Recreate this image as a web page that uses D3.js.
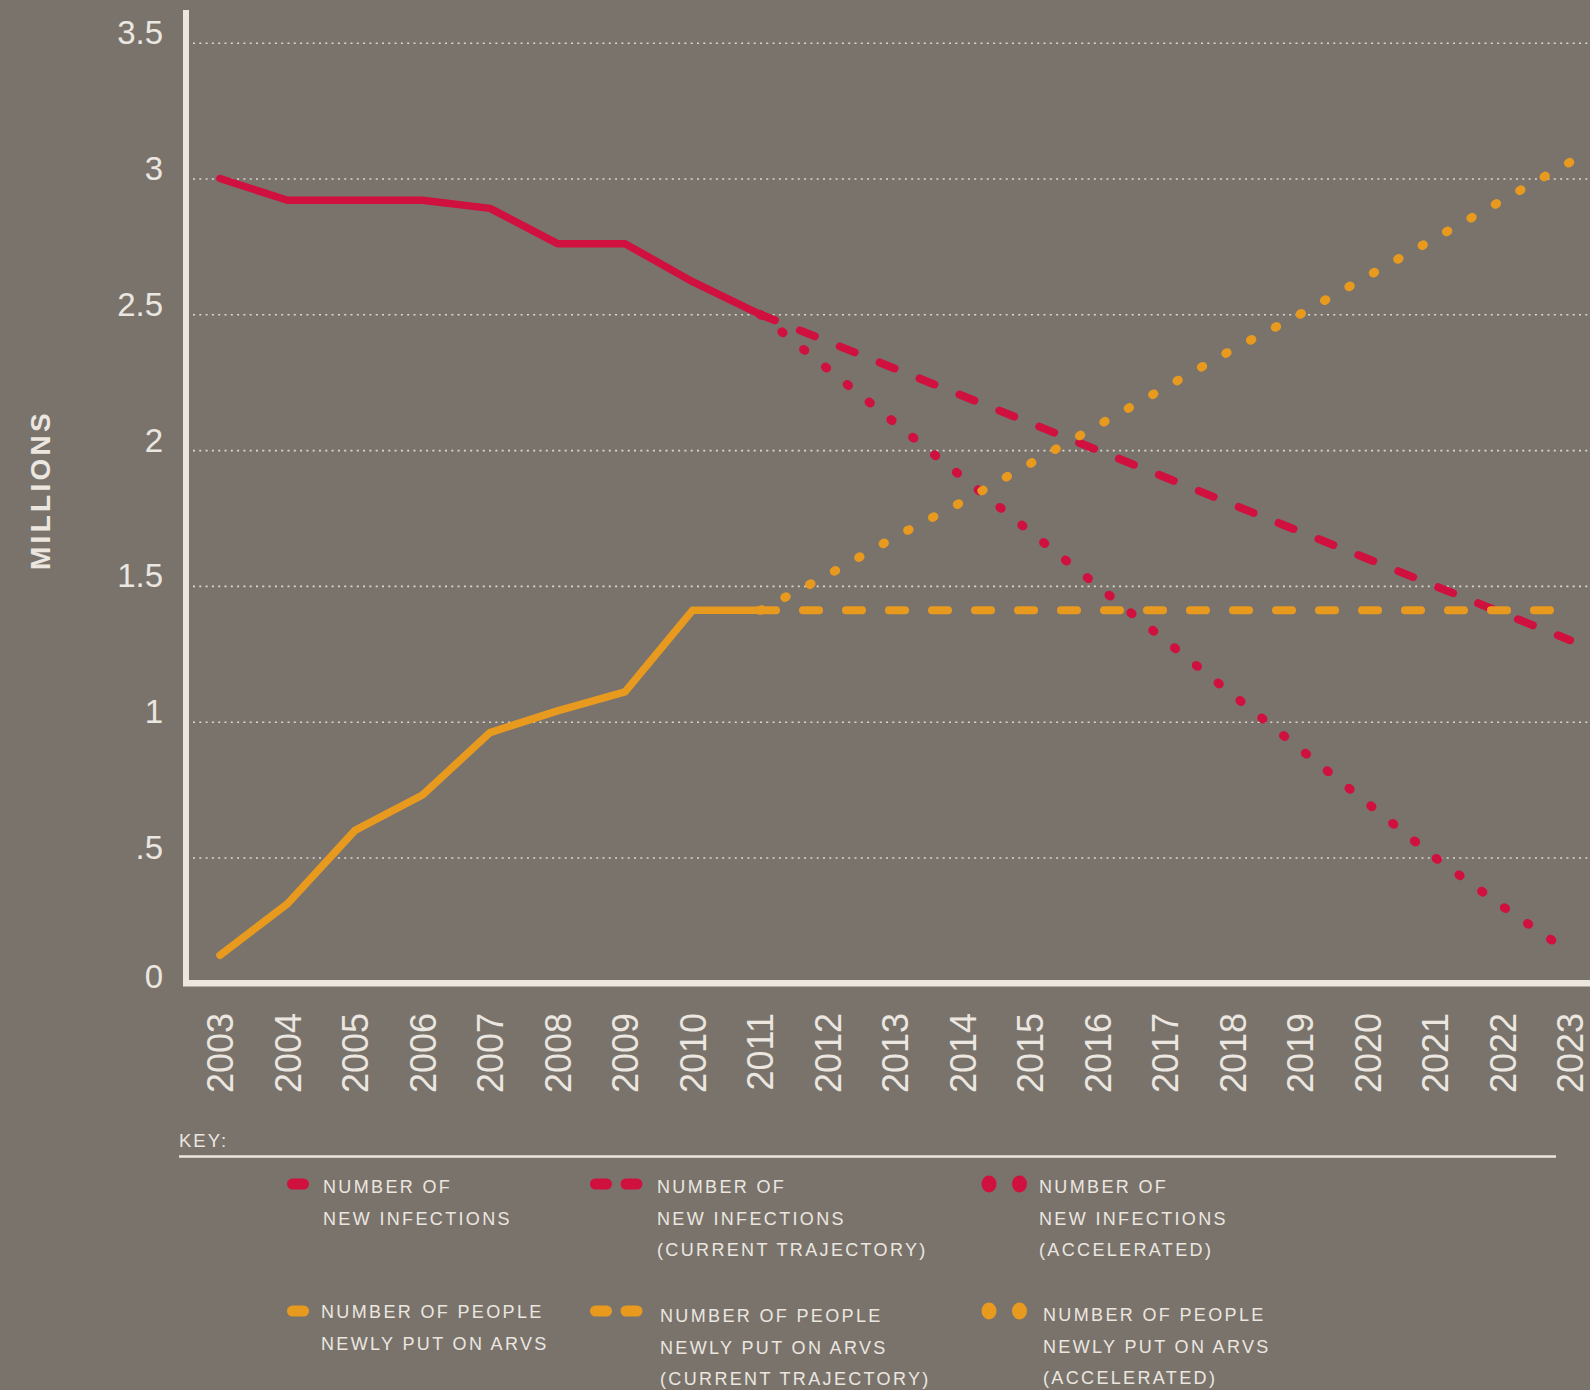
<!DOCTYPE html>
<html>
<head>
<meta charset="utf-8">
<script src="https://cdn.jsdelivr.net/npm/d3@7"></script>
<style>
body { margin: 0; background: #7a736c; }
svg { display: block; }
</style>
</head>
<body>
<svg id="chart" width="1590" height="1390"></svg>
<script>
const years = [2003, 2004, 2005, 2006, 2007, 2008, 2009, 2010, 2011, 2012, 2013,
  2014, 2015, 2016, 2017, 2018, 2019, 2020, 2021, 2022, 2023];
const histYears = years.slice(0, 9);   // 2003 - 2011
const projYears = years.slice(8);      // 2011 - 2023

// millions
const infections = [3.0, 2.92, 2.92, 2.92, 2.89, 2.76, 2.76, 2.62, 2.5];
const infectionsCurrent = [2.5, 2.4, 2.3, 2.2, 2.1, 2.0, 1.9, 1.8, 1.7, 1.6, 1.5, 1.4, 1.3];
const infectionsAccel = [2.5, 2.3, 2.1, 1.9, 1.7, 1.5, 1.3, 1.1, 0.9, 0.7, 0.5, 0.32, 0.15];
const arvs = [0.14, 0.33, 0.6, 0.73, 0.96, 1.04, 1.11, 1.41, 1.41];
const arvsCurrent = [1.41, 1.41, 1.41, 1.41, 1.41, 1.41, 1.41, 1.41, 1.41, 1.41, 1.41, 1.41, 1.41];
const arvsAccel = [1.41, 1.54, 1.68, 1.81, 1.95, 2.09, 2.23, 2.37, 2.5, 2.64, 2.78, 2.92, 3.06];

const yTicks = [0, 0.5, 1, 1.5, 2, 2.5, 3, 3.5];
const yTickLabels = ["0", ".5", "1", "1.5", "2", "2.5", "3", "3.5"];

const legendLabels = [
  ["NUMBER OF", "NEW INFECTIONS"],
  ["NUMBER OF", "NEW INFECTIONS", "(CURRENT TRAJECTORY)"],
  ["NUMBER OF", "NEW INFECTIONS", "(ACCELERATED)"],
  ["NUMBER OF PEOPLE", "NEWLY PUT ON ARVS"],
  ["NUMBER OF PEOPLE", "NEWLY PUT ON ARVS", "(CURRENT TRAJECTORY)"],
  ["NUMBER OF PEOPLE", "NEWLY PUT ON ARVS", "(ACCELERATED)"]
];

const ink = "#ebe7e0";
const red = "#d0103f";
const orange = "#e89a1f";
const sans = "'Liberation Sans', Arial, Helvetica, sans-serif";

const styles = {
  solid: {width: 7.5, dash: null},
  dashed: {width: 8, dash: "16,27"},
  dotted: {width: 9, dash: "1.5,26.5"}
};

const series = [
  {years: projYears, values: infectionsCurrent, color: red, kind: "dashed"},
  {years: projYears, values: infectionsAccel, color: red, kind: "dotted"},
  {years: histYears, values: infections, color: red, kind: "solid"},
  {years: projYears, values: arvsCurrent, color: orange, kind: "dashed"},
  {years: projYears, values: arvsAccel, color: orange, kind: "dotted"},
  {years: histYears, values: arvs, color: orange, kind: "solid"}
];

const svg = d3.select("#chart");

const x = d3.scaleLinear([2003, 2023], [220, 1570]);
const y = d3.scaleLinear([0, 3.5], [993.3, 42.7]);

// dotted gridlines
svg.append("g")
  .attr("transform", "translate(193,0)")
  .call(d3.axisRight(y).tickValues(yTicks.filter(d => d > 0)).tickSize(1397).tickFormat(""))
  .call(g => g.select(".domain").remove())
  .call(g => g.selectAll("line")
    .attr("stroke", ink)
    .attr("stroke-width", 1.6)
    .attr("stroke-dasharray", "2,4.3")
    .attr("opacity", 0.85));

// y labels
svg.append("g")
  .attr("transform", "translate(163,0)")
  .call(d3.axisLeft(y).tickValues(yTicks).tickFormat((d, i) => yTickLabels[i]).tickSize(0).tickPadding(0))
  .call(g => g.select(".domain").remove())
  .call(g => g.selectAll("text")
    .attr("fill", ink)
    .attr("font-family", sans)
    .attr("font-size", 33)
    .attr("dy", d => d === 0 ? -6 : 1));

// year labels
svg.append("g")
  .attr("transform", "translate(0,983)")
  .call(d3.axisBottom(x).tickValues(years).tickFormat(d3.format("d")).tickSize(0))
  .call(g => g.select(".domain").remove())
  .call(g => g.selectAll("text")
    .attr("transform", "rotate(-90)")
    .attr("x", -30)
    .attr("y", 0)
    .attr("dy", "0.36em")
    .attr("text-anchor", "end")
    .attr("fill", ink)
    .attr("font-family", sans)
    .attr("font-size", 36));

// axis lines
svg.append("line")
  .attr("x1", 186).attr("x2", 186).attr("y1", 10).attr("y2", 986)
  .attr("stroke", ink).attr("stroke-width", 6);
svg.append("line")
  .attr("x1", 183).attr("x2", 1590).attr("y1", 983.3).attr("y2", 983.3)
  .attr("stroke", ink).attr("stroke-width", 6.6);

svg.append("text")
  .attr("transform", "translate(40,490) rotate(-90)")
  .attr("dy", "0.36em")
  .attr("text-anchor", "middle")
  .attr("fill", ink)
  .attr("font-family", sans)
  .attr("font-weight", "bold")
  .attr("font-size", 28)
  .attr("letter-spacing", 3.3)
  .text("MILLIONS");

const line = d3.line().x(d => x(d.year)).y(d => y(d.value));

series.forEach(s => {
  let pts = s.years.map((yr, i) => ({year: yr, value: s.values[i]}));
  svg.append("path")
    .datum(pts)
    .attr("d", line)
    .attr("fill", "none")
    .attr("stroke", s.color)
    .attr("stroke-width", styles[s.kind].width)
    .attr("stroke-linecap", "round")
    .attr("stroke-linejoin", "round")
    .attr("stroke-dasharray", styles[s.kind].dash);
});

// key
svg.append("text")
  .attr("x", 179).attr("y", 1147)
  .attr("fill", ink)
  .attr("font-family", sans)
  .attr("font-size", 18.5)
  .attr("letter-spacing", 2)
  .text("KEY:");
svg.append("line")
  .attr("x1", 179).attr("x2", 1556).attr("y1", 1156.5).attr("y2", 1156.5)
  .attr("stroke", ink).attr("stroke-width", 2.5);

const colSym = [298, 601, 989];
const colText = [[323, 657, 1039], [321, 660, 1043]];
const rowSym = [1184, 1311];
const rowText = [[1193, 1193, 1193], [1318, 1322, 1321]];
const kinds = ["solid", "dashed", "dotted"];

legendLabels.forEach((lines, i) => {
  let col = i % 3, row = Math.floor(i / 3);
  let color = row === 0 ? red : orange;
  let g = svg.append("g");
  let kind = kinds[col];
  let marks = kind === "solid" ? [0] : [0, 30.5];
  marks.forEach(off => {
    if (kind === "dotted") {
      g.append("ellipse")
        .attr("cx", colSym[col] + off).attr("cy", rowSym[row])
        .attr("rx", 7.5).attr("ry", 8.5)
        .attr("fill", color);
    } else {
      g.append("rect")
        .attr("x", colSym[col] + off - 11).attr("y", rowSym[row] - 5.5)
        .attr("width", 22).attr("height", 11)
        .attr("rx", 5.5)
        .attr("fill", color);
    }
  });
  g.selectAll("text.lbl")
    .data(lines)
    .join("text")
    .attr("class", "lbl")
    .attr("x", colText[row][col])
    .attr("y", (d, j) => rowText[row][col] + j * 31.5)
    .attr("fill", ink)
    .attr("font-family", sans)
    .attr("font-size", 18)
    .attr("letter-spacing", 2.35)
    .text(d => d);
});
</script>
</body>
</html>
